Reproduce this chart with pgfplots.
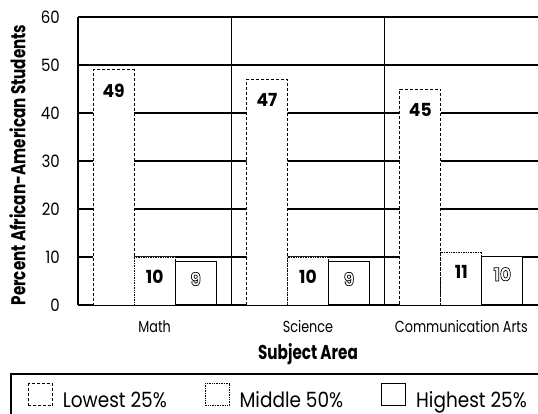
\documentclass[border=0pt]{standalone}
\usepackage{fontspec}
\setmainfont{Poppins}[FakeStretch=0.88]
\newfontfamily\narrowfont{Poppins}[FakeStretch=0.76]
\newfontfamily\catfont{Poppins}[FakeStretch=0.8]
\newfontfamily\valfont{Poppins}[FakeStretch=0.95]
\usepackage{pgfplots}
\pgfplotsset{compat=1.18}
\newcommand\outl[1]{\special{pdf:literal direct 1 Tr 0.7 w}#1\special{pdf:literal direct 0 Tr}}
\pgfplotsset{
  mylegend/.style={legend image code/.code={\draw[##1,fill=white] (0pt,-5pt) rectangle (24pt,17pt);}},
}
\begin{document}
\begin{tikzpicture}[x=1pt,y=1pt]
\begin{axis}[
  at={(78pt,109pt)}, anchor=south west,
  scale only axis, width=460pt, height=288pt,
  xmin=-0.5, xmax=2.5, ymin=0, ymax=60,
  axis x line*=bottom, axis y line*=left,
  axis line style={-, line width=2pt, black},
  ybar=0pt, bar width=41pt,
  xtick={0,1,2}, xticklabels={Math,Science,Communication Arts},
  ytick={0,10,20,30,40,50,60},
  ymajorgrids, major grid style={line width=1.2pt, black},
  extra x ticks={0.5,1.5}, extra x tick labels={},
  extra x tick style={xmajorgrids=true, major grid style={line width=1pt, black}},
  major tick length=0pt,
  /pgf/number format/assume math mode=true,
  yticklabel style={font=\fontsize{17}{20}\selectfont, anchor=east, inner sep=0pt, xshift=-18pt},
  xticklabel style={font=\catfont\fontsize{16}{19}\selectfont, anchor=north, inner sep=0pt, yshift=-15pt},
  xlabel={Subject Area},
  ylabel={Percent African-American Students},
  xlabel style={font=\narrowfont\bfseries\fontsize{20}{24}\selectfont, at={(axis description cs:0.5,0)}, anchor=north, inner sep=0pt, yshift=-38pt},
  ylabel style={font=\narrowfont\bfseries\fontsize{20}{24}\selectfont, at={(axis description cs:-0.1315,0.486)}, anchor=center, rotate=0, inner sep=0pt},
  legend columns=3,
  legend style={at={(axis description cs:-0.1087,-0.2708)}, anchor=north west, draw=none, fill=none, inner sep=0pt,
    nodes={inner sep=0pt, font=\fontsize{21}{24}\selectfont},
    /tikz/every even column/.append style={column sep=38pt},
    /tikz/every odd column/.append style={column sep=10pt}},
]
\addplot[mylegend, draw=black, fill=white, densely dashed, line width=0.7pt,
  nodes near coords={\pgfmathprintnumber{\pgfplotspointmeta}},
  every node near coord/.append style={anchor=north, yshift=-14pt, inner sep=0pt, solid, font=\valfont\bfseries\fontsize{18}{20}\selectfont}]
  coordinates {(0,49) (1,47) (2,45)};
\addlegendentry{Lowest 25\%}
\addplot[mylegend, draw=black, fill=white, densely dotted, line width=0.7pt,
  nodes near coords={\pgfmathprintnumber{\pgfplotspointmeta}},
  every node near coord/.append style={anchor=north, yshift=-13pt, inner sep=0pt, solid, font=\valfont\bfseries\fontsize{18}{20}\selectfont}]
  coordinates {(0,10) (1,10) (2,11)};
\addlegendentry{Middle 50\%}
\addplot[mylegend, draw=black, fill=white, solid, line width=1pt,
  nodes near coords={\outl{\pgfmathprintnumber{\pgfplotspointmeta}}},
  every node near coord/.append style={anchor=north, yshift=-10pt, inner sep=0pt, font=\valfont\bfseries\fontsize{18}{20}\selectfont}]
  coordinates {(0,9) (1,9) (2,10)};
\addlegendentry{Highest 25\%}
\end{axis}
\draw[line width=1.5pt] (11,40) rectangle (580,-30);
\pgfresetboundingbox
\useasboundingbox (0,0) rectangle (538,414);
\end{tikzpicture}
\end{document}
